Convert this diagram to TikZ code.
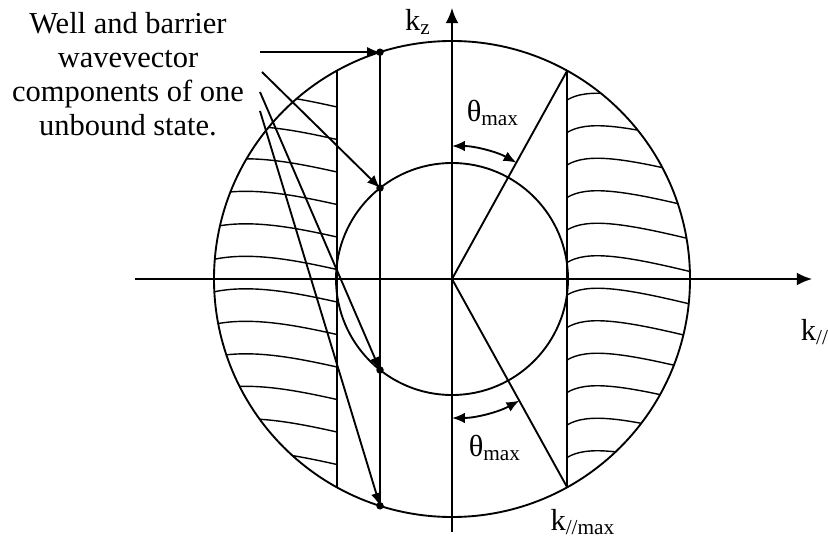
\documentclass[tikz,border=0pt]{standalone}
\usepackage{fontspec}
\setmainfont{Liberation Serif}
\usetikzlibrary{arrows.meta}

\begin{document}
\begin{tikzpicture}[x=1.5cm,y=1.5cm,font=\fontsize{13}{14.5}\selectfont,
        >={Latex[length=5.5pt,width=4.5pt]},
        axis/.style={thick,-{Latex[length=6.5pt,width=5.5pt]}},
        hatch/.style={semithick}]
        \useasboundingbox (-4.52,-2.60) rectangle (3.76,2.79);

        % axes
        \draw[axis] (-3.17, 0) -- (3.60, 0);
        \draw[axis] (0, -2.53) -- (0, 2.71);
        \node (kz) at (-0.34, 2.57) {k\textsubscript{z}};
        \node (kpar) at (3.63, -0.53) {k\textsubscript{//}};
        \node (kmax) at (1.31, -2.43) {k\textsubscript{//max}};

        % well and barrier circles
        \draw[thick] (0, 0) circle (2.38);
        \draw[thick] (0, 0) circle (1.16);

        \coordinate (O) at (0, 0);
        \coordinate (tmax) at (1.15, 2.08);
        \coordinate (bmax) at (1.15, -2.08);
        \coordinate (tmin) at (-1.15, 2.08);
        \coordinate (bmin) at (-1.15, -2.08);

        \draw[thick] (tmin) -- (bmin);
        \draw[thick] (tmax) -- (bmax);
        \draw[thick] (O) -- (tmax);
        \draw[thick] (O) -- (bmax);

        % theta max
        \draw[thick,<->] (90:1.33) arc (90:61:1.33);
        \draw[thick,<->] (270:1.39) arc (270:299:1.39);
        \node (thtop) at (0.41, 1.66) {θ\textsubscript{max}};
        \node (thbot) at (0.43, -1.69) {θ\textsubscript{max}};

        % hatching
        \begin{scope}
        \clip (0, 0) circle (2.38);
        \draw[hatch] (-2.5, 1.79) .. controls (-2.1, 1.92) and (-1.6, 1.82) .. (-1.15, 1.72);
        \draw[hatch] (-2.5, 1.465) .. controls (-2.1, 1.595) and (-1.6, 1.495) .. (-1.15, 1.395);
        \draw[hatch] (-2.5, 1.14) .. controls (-2.1, 1.27) and (-1.6, 1.17) .. (-1.15, 1.07);
        \draw[hatch] (-2.5, 0.815) .. controls (-2.1, 0.945) and (-1.6, 0.845) .. (-1.15, 0.745);
        \draw[hatch] (-2.5, 0.49) .. controls (-2.1, 0.62) and (-1.6, 0.52) .. (-1.15, 0.42);
        \draw[hatch] (-2.5, 0.165) .. controls (-2.1, 0.295) and (-1.6, 0.195) .. (-1.15, 0.095);
        \draw[hatch] (-2.5, -0.16) .. controls (-2.1, -0.03) and (-1.6, -0.13) .. (-1.15, -0.23);
        \draw[hatch] (-2.5, -0.485) .. controls (-2.1, -0.355) and (-1.6, -0.455) .. (-1.15, -0.555);
        \draw[hatch] (-2.5, -0.81) .. controls (-2.1, -0.68) and (-1.6, -0.78) .. (-1.15, -0.88);
        \draw[hatch] (-2.5, -1.135) .. controls (-2.1, -1.005) and (-1.6, -1.105) .. (-1.15, -1.205);
        \draw[hatch] (-2.5, -1.46) .. controls (-2.1, -1.33) and (-1.6, -1.43) .. (-1.15, -1.53);
        \draw[hatch] (-2.5, -1.785) .. controls (-2.1, -1.655) and (-1.6, -1.755) .. (-1.15, -1.855);

        \draw[hatch] (1.15, 1.79) .. controls (1.35, 1.91) and (1.7, 1.87) .. (2.5, 1.67);
        \draw[hatch] (1.15, 1.465) .. controls (1.35, 1.585) and (1.7, 1.545) .. (2.5, 1.345);
        \draw[hatch] (1.15, 1.14) .. controls (1.35, 1.26) and (1.7, 1.22) .. (2.5, 1.02);
        \draw[hatch] (1.15, 0.815) .. controls (1.35, 0.935) and (1.7, 0.895) .. (2.5, 0.695);
        \draw[hatch] (1.15, 0.49) .. controls (1.35, 0.61) and (1.7, 0.57) .. (2.5, 0.37);
        \draw[hatch] (1.15, 0.165) .. controls (1.35, 0.285) and (1.7, 0.245) .. (2.5, 0.045);
        \draw[hatch] (1.15, -0.16) .. controls (1.35, -0.04) and (1.7, -0.08) .. (2.5, -0.28);
        \draw[hatch] (1.15, -0.485) .. controls (1.35, -0.365) and (1.7, -0.405) .. (2.5, -0.605);
        \draw[hatch] (1.15, -0.81) .. controls (1.35, -0.69) and (1.7, -0.73) .. (2.5, -0.93);
        \draw[hatch] (1.15, -1.135) .. controls (1.35, -1.015) and (1.7, -1.055) .. (2.5, -1.255);
        \draw[hatch] (1.15, -1.46) .. controls (1.35, -1.34) and (1.7, -1.38) .. (2.5, -1.58);
        \draw[hatch] (1.15, -1.785) .. controls (1.35, -1.665) and (1.7, -1.705) .. (2.5, -1.905);
        \end{scope}

        % one unbound state
        \coordinate (wt) at (-0.72, 2.268);
        \coordinate (bt) at (-0.72, 0.91);
        \coordinate (bb) at (-0.72, -0.91);
        \coordinate (wb) at (-0.72, -2.268);
        \draw[thick] (wt) -- (wb);

        \node[align=center] (note) at (-3.24, 2.05) {Well and barrier\\wavevector\\components of one\\unbound state.};
        \coordinate (a1) at (-1.92, 2.268);
        \coordinate (a2) at (-1.90, 2.07);
        \coordinate (a3) at (-1.92, 1.87);
        \coordinate (a4) at (-1.92, 1.68);
        \draw[thick,->] (a1) -- (wt);
        \draw[thick,->] (a2) -- (bt);
        \draw[thick,->] (a3) -- (bb);
        \draw[thick,->] (a4) -- (wb);

        \fill (wt) circle (1.6pt);
        \fill (bt) circle (1.6pt);
        \fill (bb) circle (1.6pt);
        \fill (wb) circle (1.6pt);
    \end{tikzpicture}
\end{document}
